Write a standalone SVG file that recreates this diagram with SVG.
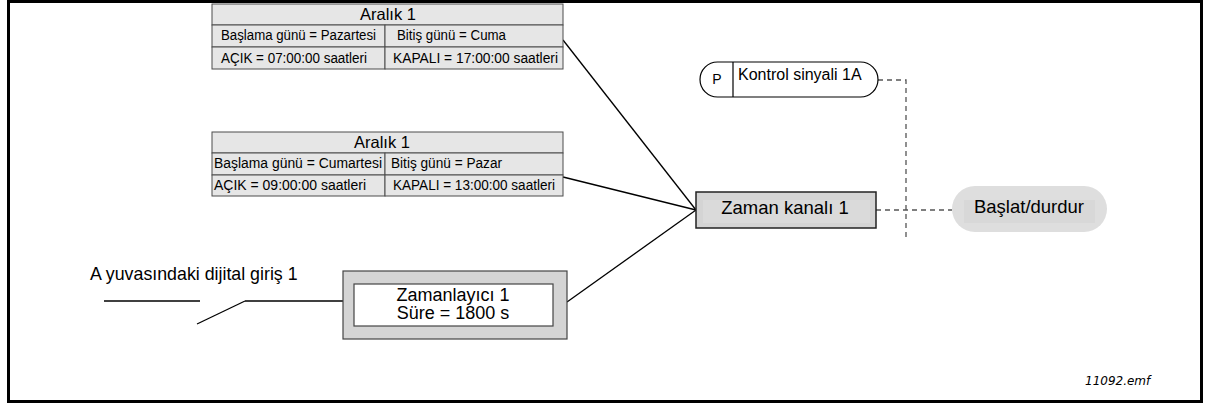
<svg xmlns="http://www.w3.org/2000/svg" width="1210" height="405" viewBox="0 0 1210 405">
<style>
  text { font-family: "Liberation Sans", Arial, sans-serif; fill: #000; }
  .cell { fill: #e6e6e6; stroke: #4d4d4d; stroke-width: 1; }
  .t13 { font-size: 14px; }
  .hdr { font-size: 16.5px; }
  .conn { stroke: #000; stroke-width: 1.3; fill: none; }
  .dash { stroke: #555; stroke-width: 1.3; stroke-dasharray: 5 4; fill: none; }
</style>
<rect x="0" y="0" width="1210" height="405" fill="#fff"/>
<rect id="frame" x="8.5" y="1.5" width="1193" height="400" fill="none" stroke="#000" stroke-width="3"/>

<g id="connectors">
  <line class="conn" x1="563" y1="40" x2="696" y2="210"/>
  <line class="conn" x1="563" y1="177" x2="696" y2="210"/>
  <line class="conn" x1="567" y1="302" x2="696" y2="210"/>
  <line class="conn" x1="104" y1="301" x2="200" y2="301"/>
  <line class="conn" x1="197" y1="324" x2="245" y2="301"/>
  <line class="conn" x1="245" y1="301" x2="343" y2="301"/>
  <polyline class="dash" points="878,80 906,80 906,240"/>
  <line class="dash" x1="876" y1="210" x2="952" y2="210"/>
</g>

<g id="interval1">
  <rect class="cell" x="212" y="4" width="351" height="21"/>
  <rect class="cell" x="212" y="25" width="173" height="22"/>
  <rect class="cell" x="385" y="25" width="178" height="22"/>
  <rect class="cell" x="212" y="47" width="173" height="22"/>
  <rect class="cell" x="385" y="47" width="178" height="22"/>
  <text class="hdr" x="388" y="20" text-anchor="middle">Aralık 1</text>
  <text class="t13" x="221" y="40" textLength="155" lengthAdjust="spacingAndGlyphs">Başlama günü = Pazartesi</text>
  <text class="t13" x="397" y="40" textLength="109" lengthAdjust="spacingAndGlyphs">Bitiş günü = Cuma</text>
  <text class="t13" x="221" y="63" textLength="146" lengthAdjust="spacingAndGlyphs">AÇIK = 07:00:00 saatleri</text>
  <text class="t13" x="393" y="63" textLength="165" lengthAdjust="spacingAndGlyphs">KAPALI = 17:00:00 saatleri</text>
</g>

<g id="interval2">
  <rect class="cell" x="212" y="132" width="351" height="21"/>
  <rect class="cell" x="212" y="153" width="173" height="22"/>
  <rect class="cell" x="385" y="153" width="178" height="22"/>
  <rect class="cell" x="212" y="175" width="173" height="21"/>
  <rect class="cell" x="385" y="175" width="178" height="21"/>
  <text class="hdr" x="382" y="148" text-anchor="middle">Aralık 1</text>
  <text class="t13" x="214" y="168" textLength="168" lengthAdjust="spacingAndGlyphs">Başlama günü = Cumartesi</text>
  <text class="t13" x="391" y="168" textLength="111" lengthAdjust="spacingAndGlyphs">Bitiş günü = Pazar</text>
  <text class="t13" x="214" y="190" textLength="152" lengthAdjust="spacingAndGlyphs">AÇIK = 09:00:00 saatleri</text>
  <text class="t13" x="393" y="190" textLength="162" lengthAdjust="spacingAndGlyphs">KAPALI = 13:00:00 saatleri</text>
</g>

<g id="control-signal">
  <rect x="700" y="62" width="178" height="35" rx="17.5" fill="#fff" stroke="#000" stroke-width="1.2"/>
  <line x1="733" y1="62" x2="733" y2="97" stroke="#000" stroke-width="1.2"/>
  <text x="717" y="84" font-size="14" text-anchor="middle">P</text>
  <text x="738" y="80" font-size="16">Kontrol sinyali 1A</text>
</g>

<g id="time-channel">
  <rect x="696" y="192" width="180" height="36" fill="#d4d4d4" stroke="#222" stroke-width="1.5"/>
  <rect x="703" y="200" width="167" height="23" fill="#dadada"/>
  <text x="785" y="214" font-size="18.5" text-anchor="middle">Zaman kanalı 1</text>
</g>

<g id="start-stop">
  <rect x="952" y="186" width="155" height="46" rx="23" fill="#dedede"/>
  <rect x="964" y="200" width="131" height="23" fill="#d8d8d8"/>
  <text x="1029" y="213" font-size="18.5" text-anchor="middle">Başlat/durdur</text>
</g>

<g id="timer">
  <rect x="343" y="271" width="224" height="68" fill="#d4d4d4" stroke="#444" stroke-width="1.2"/>
  <rect x="354" y="284" width="199" height="42" fill="#fff" stroke="#444" stroke-width="1.2"/>
  <text x="453" y="301" font-size="18" text-anchor="middle">Zamanlayıcı 1</text>
  <text x="453" y="319" font-size="18" text-anchor="middle">Süre = 1800 s</text>
</g>

<g id="digital-input">
  <text x="90" y="280" font-size="17.8">A yuvasındaki dijital giriş 1</text>
</g>

<text x="1085" y="385" font-size="12" font-style="italic" style="font-family: 'DejaVu Sans', Verdana, sans-serif">11092.emf</text>
</svg>
